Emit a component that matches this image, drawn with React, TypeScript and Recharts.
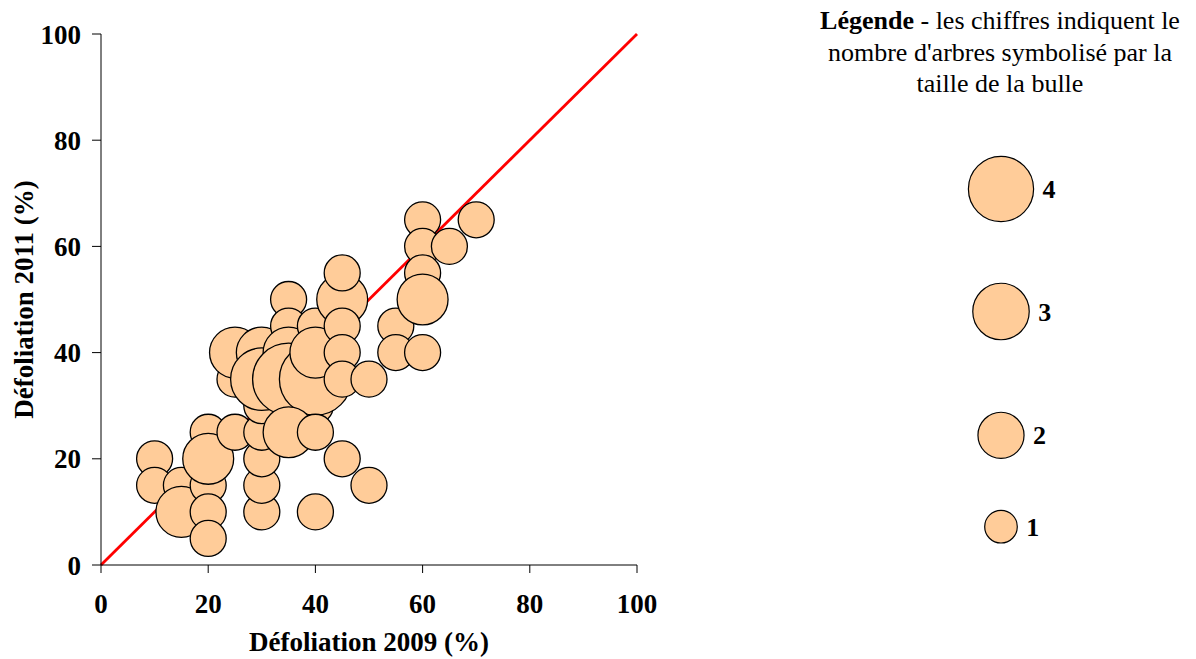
import {
  ReferenceLine,
  Scatter,
  ScatterChart,
  XAxis,
  YAxis,
} from 'recharts'

// défoliation 2009 (%), défoliation 2011 (%), nombre d'arbres
const def2009 = [
  10, 10, 15, 15, 20, 20, 20, 20, 20,
  25, 25, 25,
  30, 30, 30, 30, 30, 30, 30,
  35, 35, 35, 35,
  40, 40, 35, 40, 40, 40, 40,
  45, 45, 45, 45, 45, 45,
  50, 50, 55, 55,
  60, 60, 60, 60, 60, 65, 70,
]
const def2011 = [
  20, 15, 15, 10, 25, 15, 10, 5, 20,
  25, 35, 40,
  10, 15, 20, 25, 30, 40, 35,
  50, 45, 40, 35,
  30, 35, 25, 25, 10, 45, 40,
  50, 55, 45, 40, 35, 20,
  35, 15, 45, 40,
  65, 60, 55, 50, 40, 60, 65,
]
const treeCounts = [
  1, 1, 1, 2, 1, 1, 1, 1, 2,
  1, 1, 2,
  1, 1, 1, 1, 1, 2, 3,
  1, 1, 2, 4,
  1, 4, 2, 1, 1, 1, 2,
  2, 1, 1, 1, 1, 1,
  1, 1, 1, 1,
  1, 1, 1, 2, 1, 1, 1,
]
const axisTicks = [0, 20, 40, 60, 80, 100]
const legendCounts = [4, 3, 2, 1]

const data = def2009.map((x, i) => ({ x, y: def2011[i], n: treeCounts[i] }))

const FILL = '#FFCC99'
const serif = '"Liberation Serif", "Times New Roman", serif'
const boldText = { fontFamily: serif, fontWeight: 'bold', fontSize: 27, fill: '#000' }

const Bubble = (props: any) => {
  const { cx, cy, payload } = props
  return (
    <circle
      cx={cx}
      cy={cy}
      r={18 * Math.sqrt(payload.n)}
      fill={FILL}
      stroke="#000"
      strokeWidth={1.3}
    />
  )
}

// legend layout (page coords minus body margin)
const legendY = [181, 303.5, 427.3, 518.7]

export default function App() {
  return (
    <div style={{ position: 'relative', width: 1180, height: 651 }}>
      <ScatterChart
        width={700}
        height={651}
        margin={{ top: 26, right: 71, left: 0, bottom: 0 }}
        style={{ overflow: 'visible' }}
      >
        <XAxis
          type="number"
          dataKey="x"
          domain={[0, 100]}
          ticks={axisTicks}
          tickSize={8}
          tickMargin={21}
          height={94}
          tick={boldText}
          axisLine={{ stroke: '#000' }}
          tickLine={{ stroke: '#000' }}
          label={{
            value: 'Défoliation 2009 (%)',
            position: 'insideBottom',
            offset: 8,
            style: boldText,
          }}
        />
        <YAxis
          type="number"
          dataKey="y"
          domain={[0, 100]}
          ticks={axisTicks}
          tickSize={9}
          tickMargin={11}
          width={93}
          tick={boldText}
          axisLine={{ stroke: '#000' }}
          tickLine={{ stroke: '#000' }}
          label={{
            content: ({ viewBox }: any) => {
              const cx = 25
              const cy = viewBox.y + viewBox.height / 2
              return (
                <text
                  x={cx}
                  y={cy}
                  transform={`rotate(-90, ${cx}, ${cy})`}
                  textAnchor="middle"
                  style={boldText}
                >
                  Défoliation 2011 (%)
                </text>
              )
            },
          }}
        />
        <Scatter data={data} shape={Bubble} isAnimationActive={false} />
        <ReferenceLine
          segment={[
            { x: 0, y: 0 },
            { x: 100, y: 100 },
          ]}
          stroke="#FF0000"
          strokeWidth={2.8}
        />
      </ScatterChart>

      <div
        style={{
          position: 'absolute',
          left: 802,
          top: -3,
          width: 380,
          textAlign: 'center',
          fontFamily: serif,
          fontSize: 26,
          lineHeight: '31.5px',
          color: '#000',
        }}
      >
        <b>Légende</b> - les chiffres indiquent le
        <br />
        nombre d'arbres symbolisé par la
        <br />
        taille de la bulle
      </div>

      <svg
        style={{ position: 'absolute', left: 940, top: 130 }}
        width={140}
        height={440}
        viewBox="940 130 140 440"
      >
        {legendCounts.map((n, i) => {
          const r = 16.3 * Math.sqrt(n)
          return (
            <g key={n}>
              <circle cx={993} cy={legendY[i]} r={r} fill={FILL} stroke="#000" strokeWidth={1.2} />
              <text
                x={993 + r + 9}
                y={legendY[i]}
                dy="0.35em"
                style={{ ...boldText, fontSize: 26 }}
              >
                {n}
              </text>
            </g>
          )
        })}
      </svg>
    </div>
  )
}
